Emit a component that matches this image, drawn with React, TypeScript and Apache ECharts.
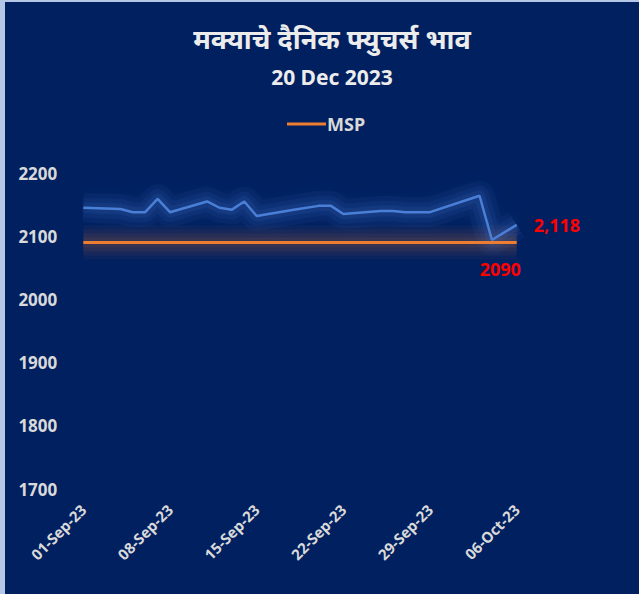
import React, { useEffect, useRef } from "react";
import * as echarts from "echarts";

const titleText = "मक्याचे दैनिक फ्युचर्स भाव";
const subtitleText = "20 Dec 2023";

const dates = [
  "2023-09-01", "2023-09-04", "2023-09-05", "2023-09-06", "2023-09-07", "2023-09-08",
  "2023-09-11", "2023-09-12", "2023-09-13", "2023-09-14", "2023-09-15",
  "2023-09-18", "2023-09-20", "2023-09-21", "2023-09-22",
  "2023-09-25", "2023-09-26", "2023-09-27", "2023-09-28", "2023-09-29",
  "2023-10-03", "2023-10-04", "2023-10-05", "2023-10-06",
];

const futuresPrice = [
  2145, 2143, 2138, 2138, 2159, 2138,
  2155, 2145, 2142, 2155, 2132,
  2142, 2148, 2148, 2135,
  2140, 2140, 2138, 2138, 2138,
  2164, 2094, 2106, 2118,
];

const mspValue = 2090;
const mspValues = dates.map(() => mspValue);

// weekly tick labels (every 7 days from 01-Sep-23)
const tickLabels = ["01-Sep-23", "08-Sep-23", "15-Sep-23", "22-Sep-23", "29-Sep-23", "06-Oct-23"];
const tickStepDays = 7;

const FONT = "'Noto Sans', 'DejaVu Sans', sans-serif";
const LABEL_COLOR = "#d9d9d9";

export default function App() {
  const ref = useRef<HTMLDivElement>(null);

  useEffect(() => {
    if (!ref.current) return;
    const chart = echarts.init(ref.current, undefined, { renderer: "svg" });
    const lastIdx = dates.length - 1;
    const mspData = dates.map((d, i) => [d, mspValues[i]]);
    const priceData = dates.map((d, i) => [d, futuresPrice[i]]);
    const spanDays = (tickLabels.length - 1) * tickStepDays;
    const glow = (data: any[], rgb: string, w: number, a: number) => ({
      type: "line",
      xAxisIndex: 0,
      yAxisIndex: 0,
      data,
      symbol: "none",
      silent: true,
      lineStyle: { color: `rgba(${rgb},${a})`, width: w, join: "round" },
      z: 1,
    });
    chart.setOption({
      animation: false,
      backgroundColor: "#002060",
      textStyle: { fontFamily: FONT },
      title: {
        text: titleText,
        subtext: subtitleText,
        left: 322,
        top: 22,
        textAlign: "center",
        itemGap: 10,
        textStyle: {
          color: "#ececec",
          fontSize: 27,
          fontWeight: "bold",
          fontFamily: "'Noto Sans Devanagari', 'Noto Sans', sans-serif",
        },
        subtextStyle: {
          color: "#ececec",
          fontSize: 21,
          fontWeight: "bold",
          fontFamily: FONT,
        },
      },
      legend: {
        data: ["MSP"],
        left: 277,
        top: 108,
        icon: "rect",
        itemWidth: 39,
        itemHeight: 3,
        itemGap: 4,
        textStyle: { color: LABEL_COLOR, fontSize: 18, fontWeight: "bold", fontFamily: FONT, padding: [0, 0, 0, -4] },
      },
      grid: { left: 78.3, right: 122.3, top: 171, bottom: 105 },
      xAxis: [
        {
          type: "time",
          min: dates[0],
          max: dates[lastIdx],
          position: "bottom",
          show: false,
        },
        {
          type: "value",
          min: 0,
          max: spanDays,
          interval: tickStepDays,
          position: "bottom",
          axisLine: { show: false },
          axisTick: { show: false },
          splitLine: { show: false },
          axisLabel: {
            rotate: 45,
            margin: 18,
            color: LABEL_COLOR,
            fontSize: 15,
            fontWeight: "bold",
            fontFamily: FONT,
            formatter: (v: number) => tickLabels[Math.round(v / tickStepDays)] ?? "",
          },
        },
      ],
      yAxis: {
        type: "value",
        min: 1700,
        max: 2200,
        interval: 100,
        axisLine: { show: false },
        axisTick: { show: false },
        splitLine: { show: false },
        axisLabel: {
          margin: 26,
          color: LABEL_COLOR,
          fontSize: 17,
          fontWeight: "bold",
          fontFamily: FONT,
          formatter: (v: number) => String(v),
        },
      },
      series: [
        { name: "MSP glow 1", ...glow(mspData, "237,125,49", 34, 0.05) },
        { name: "MSP glow 2", ...glow(mspData, "237,125,49", 26, 0.06) },
        { name: "MSP glow 3", ...glow(mspData, "237,125,49", 18, 0.07) },
        { name: "MSP glow 4", ...glow(mspData, "237,125,49", 10, 0.08) },
        { name: "Price glow 1", ...glow(priceData, "80,130,225", 30, 0.05) },
        { name: "Price glow 2", ...glow(priceData, "80,130,225", 20, 0.07) },
        { name: "Price glow 3", ...glow(priceData, "80,130,225", 11, 0.09) },
        {
          name: "Futures",
          type: "line",
          xAxisIndex: 0,
          yAxisIndex: 0,
          data: priceData,
          showSymbol: false,
          symbol: "none",
          lineStyle: {
            color: "#4a7fd6",
            width: 2.5,
            shadowColor: "rgba(80,130,225,0.8)",
            shadowBlur: 20,
          },
          itemStyle: { color: "#4a7fd6" },
          z: 3,
          endLabel: {
            show: true,
            formatter: (p: any) => Number(p.value[1]).toLocaleString("en-US"),
            color: "#ff0000",
            fontSize: 18,
            fontWeight: "bold",
            fontFamily: FONT,
            distance: 17,
          },
        },
        {
          name: "MSP",
          type: "line",
          xAxisIndex: 0,
          yAxisIndex: 0,
          data: mspData,
          symbol: "none",
          showSymbol: false,
          itemStyle: { color: "#ED7D31" },
          lineStyle: { color: "#ED7D31", width: 3 },
          z: 4,
          endLabel: {
            show: true,
            formatter: (p: any) => String(p.value[1]),
            offset: [-45, 26],
            color: "#ff0000",
            fontSize: 18,
            fontWeight: "bold",
            fontFamily: FONT,
          },
        },
      ],
    });
    return () => chart.dispose();
  }, []);

  return (
    <div style={{ position: "fixed", left: 0, top: 0, width: 639, height: 594, background: "#b4c7e7" }}>
      <div ref={ref} style={{ position: "absolute", left: 5, top: 2, width: 634, height: 592 }} />
    </div>
  );
}
